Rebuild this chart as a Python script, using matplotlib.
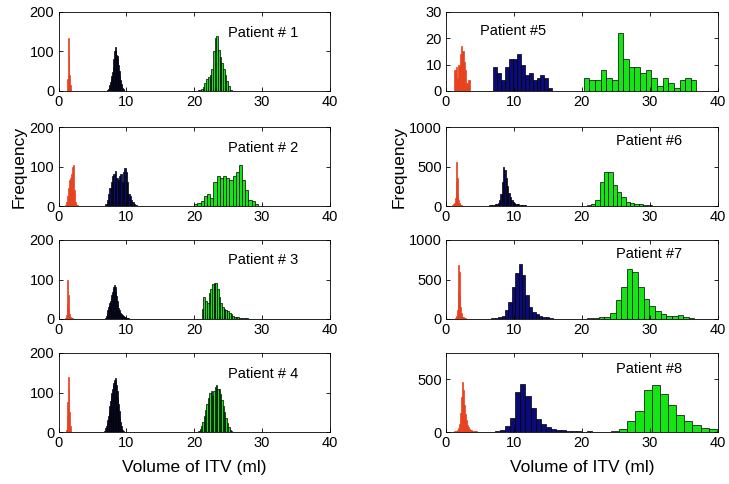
import matplotlib
matplotlib.use("Agg")
import matplotlib.pyplot as plt
import numpy as np

# histogram counts per patient: red (first), navy (second), green (third) group
# bin start / width for each group, per patient 1..8
red_start = [1.2, 1.0, 1.0, 1.1, 1.2, 0.6, 1.1, 1.1]
red_width = [0.1, 0.15, 0.1, 0.1, 0.2, 0.1, 0.1, 0.15]
navy_start = [7.2, 6.9, 6.9, 6.6, 6.96, 5.6, 6.7, 7.2]
navy_width = [0.1, 0.2, 0.1, 0.1, 0.58, 0.2, 0.5, 0.75]
green_start = [20.5, 20.0, 21.1, 20.6, 20.3, 18.8, 20.0, 24.3]
green_width = [0.25, 0.47, 0.25, 0.2, 0.83, 0.64, 0.83, 1.2]

p1_red = [3, 30, 135, 90, 40, 15, 5, 1]
p1_navy = [2, 5, 10, 15, 22, 30, 38, 48, 62, 80, 100, 112, 105, 92, 88, 80,
           65, 50, 38, 28, 18, 12, 7, 4, 2, 1]
p1_green = [2, 3, 5, 10, 20, 30, 35, 40, 55, 100, 135, 140, 105, 85, 70, 55,
            40, 25, 12, 3]

p2_red = [3, 10, 25, 45, 65, 70, 80, 100, 105, 40, 10, 3]
p2_navy = [5, 15, 30, 45, 60, 75, 80, 88, 70, 65, 75, 80, 60, 85, 95, 85,
           60, 30, 25, 15, 10, 5, 3]
p2_green = [5, 8, 12, 25, 30, 20, 60, 75, 72, 75, 70, 65, 75, 85, 105, 65,
            40, 15, 12, 5]

p3_red = [3, 10, 40, 100, 60, 25, 12, 6, 4, 3, 2, 2, 1, 1, 1]
p3_navy = [2, 8, 15, 22, 30, 35, 40, 45, 52, 60, 68, 75, 82, 85, 80, 70,
           58, 45, 35, 28, 22, 18, 15, 12, 10, 9, 8, 7, 6, 5, 4, 3, 3, 2,
           2, 1, 1]
p3_green = [25, 55, 45, 40, 65, 75, 88, 90, 90, 75, 55, 40, 30, 25, 22, 20,
            15, 12, 8, 6, 5, 4, 3, 3, 2, 2, 2, 1, 1, 1]

p4_red = [5, 40, 75, 140, 110, 50, 15, 3]
p4_navy = [1, 3, 6, 10, 15, 22, 30, 40, 52, 65, 78, 90, 100, 110, 118, 125,
           132, 137, 130, 120, 105, 88, 70, 52, 38, 25, 15, 8, 4, 2]
p4_green = [3, 8, 15, 25, 40, 55, 70, 85, 100, 105, 90, 105, 115, 120, 110,
            110, 95, 80, 65, 50, 35, 22, 12, 6, 2]

p5_red = [8, 9, 5, 10, 14, 17, 15, 11, 8, 3, 4, 4]
p5_navy = [9, 7, 4, 9, 12, 12, 14, 10, 6, 7, 4, 5, 6, 5, 1]
p5_green = [5, 4, 4, 8, 5, 4, 22, 12, 9, 9, 7, 8, 5, 2, 5, 3, 1, 4, 5, 4]

p6_red = [2, 3, 5, 8, 12, 20, 40, 100, 300, 560, 350, 150, 70, 40, 25, 15,
          10, 6, 4, 3, 2, 2]
p6_navy = [5, 3, 5, 5, 8, 10, 12, 15, 20, 25, 40, 80, 150, 300, 490, 460,
           360, 250, 170, 110, 75, 55, 40, 30, 25, 20, 15, 12, 10, 8, 8, 6,
           5, 4, 3]
p6_green = [3, 5, 4, 8, 25, 75, 300, 425, 425, 260, 175, 110, 55, 35, 30,
            25, 15, 10, 6, 3]

p7_red = [3, 5, 8, 15, 40, 120, 350, 680, 600, 300, 150, 80, 45, 30, 20, 15,
          10, 8, 6, 4, 3, 3, 2, 2, 1, 1, 1]
p7_navy = [8, 12, 20, 40, 110, 220, 400, 580, 700, 560, 300, 150, 90, 60,
           40, 30, 20, 12]
p7_green = [5, 8, 12, 20, 30, 80, 240, 400, 630, 600, 400, 250, 170, 100,
            60, 40, 35, 55, 20, 10]

p8_red = [3, 5, 10, 20, 40, 80, 180, 330, 470, 400, 260, 170, 110, 70, 45,
          30, 20, 15, 12, 10, 8, 6, 5, 4, 3, 2]
p8_navy = [5, 15, 60, 130, 380, 460, 340, 230, 120, 75, 45, 25, 15, 15, 10,
           5, 5, 3, 5, 3, 1]
p8_green = [10, 30, 105, 200, 400, 450, 360, 260, 160, 100, 70, 40, 28]

reds = [p1_red, p2_red, p3_red, p4_red, p5_red, p6_red, p7_red, p8_red]
navys = [p1_navy, p2_navy, p3_navy, p4_navy, p5_navy, p6_navy, p7_navy, p8_navy]
greens = [p1_green, p2_green, p3_green, p4_green, p5_green, p6_green,
          p7_green, p8_green]

y_max = [200, 200, 200, 200, 30, 1000, 1000, 750]
y_ticks = [[0, 100, 200]] * 4 + [[0, 10, 20, 30], [0, 500, 1000],
                                 [0, 500, 1000], [0, 500]]
labels = ["Patient # 1", "Patient # 2", "Patient # 3", "Patient # 4",
          "Patient #5", "Patient #6", "Patient #7", "Patient #8"]

RED = "#e8401c"
NAVY = "#0a0a78"
GREEN = "#14e614"

plt.rcParams["font.family"] = ["Liberation Sans", "DejaVu Sans"]

fig = plt.figure(figsize=(7.29, 4.84), dpi=100)

col_x = [58.5, 446]
col_w = 271.5
row_top = [12, 127, 240, 353]
row_h = 79
text_pos = [(0.625, 0.74), (0.625, 0.74), (0.625, 0.75), (0.625, 0.74),
            (0.125, 0.76), (0.625, 0.82), (0.625, 0.82), (0.625, 0.80)]

W, H = 729, 484
for i in range(8):
    col, row = divmod(i, 4)
    ax = fig.add_axes([col_x[col] / W, 1 - (row_top[row] + row_h) / H,
                       col_w / W, row_h / H])

    for counts, start, width, fc, ec in [
        (reds[i], red_start[i], red_width[i], RED, RED),
        (navys[i], navy_start[i], navy_width[i], NAVY, "black"),
        (greens[i], green_start[i], green_width[i], GREEN, "black"),
    ]:
        edges = start + width * np.arange(len(counts))
        ax.bar(edges, counts, width=width, align="edge", color=fc,
               edgecolor=ec, linewidth=0.5)

    ax.set_xlim(0, 40)
    ax.set_ylim(0, y_max[i])
    ax.set_xticks([0, 10, 20, 30, 40])
    ax.set_yticks(y_ticks[i])
    ax.tick_params(direction="in", length=3, width=0.6, top=True, right=True,
                   labelsize=10.5, pad=3)
    for s in ax.spines.values():
        s.set_linewidth(0.6)
    ax.text(text_pos[i][0], text_pos[i][1], labels[i], transform=ax.transAxes,
            fontsize=10.5, va="center", ha="left")

    if row == 1:
        ax.set_ylabel("Frequency", fontsize=12.5, labelpad=2)
    if row == 3:
        ax.set_xlabel("Volume of ITV (ml)", fontsize=12.5, labelpad=7)

fig.savefig("out.png", dpi=100)
